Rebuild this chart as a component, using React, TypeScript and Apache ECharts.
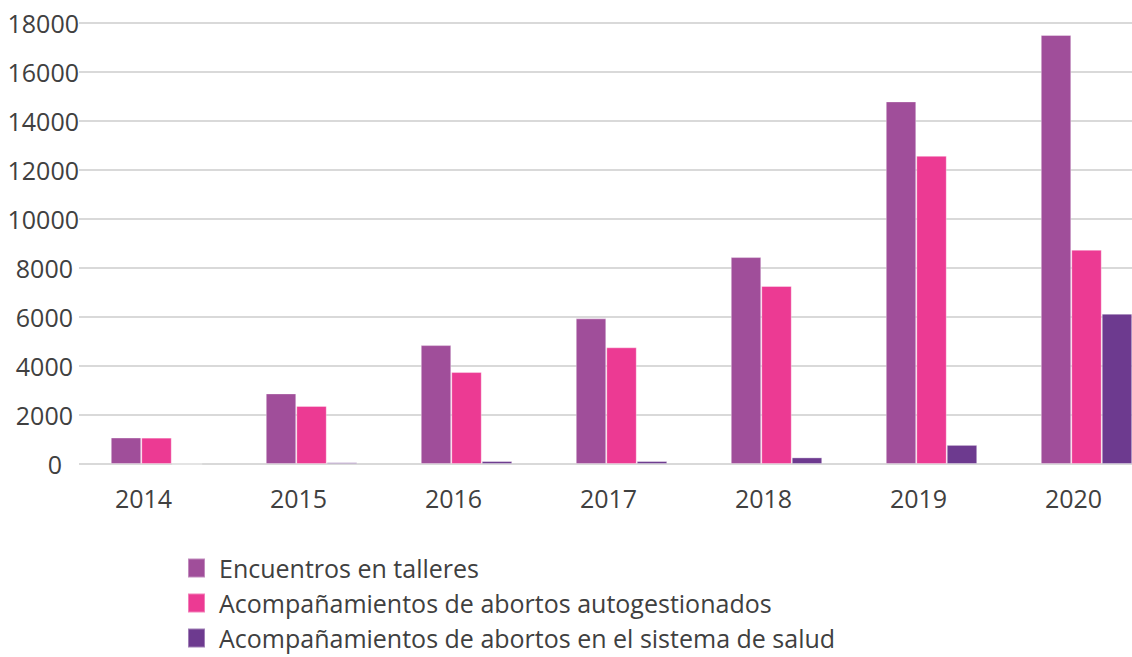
import React, { useEffect, useRef } from "react";
import * as echarts from "echarts";

const years = ["2014", "2015", "2016", "2017", "2018", "2019", "2020"];
const encuentros = [1080, 2880, 4850, 5940, 8440, 14790, 17500];
const autogestionados = [1075, 2370, 3750, 4760, 7260, 12570, 8740];
const sistemaSalud = [0, 70, 120, 120, 270, 780, 6130];
const seriesNames = [
  "Encuentros en talleres",
  "Acompañamientos de abortos autogestionados",
  "Acompañamientos de abortos en el sistema de salud",
];
const colors = ["#A04E9A", "#EC3A93", "#6D3A8F"];

const FONT = "'Open Sans', 'Noto Sans', sans-serif";
const TXT = "#404040";
const FS = 25;

export default function App() {
  const ref = useRef<HTMLDivElement>(null);
  useEffect(() => {
    document.body.style.margin = "0";
    document.body.style.overflow = "hidden";
    const chart = echarts.init(ref.current!, null, { renderer: "svg" });
    const data = [encuentros, autogestionados, sistemaSalud];
    const yRich = (pad: number) => ({
      fontFamily: FONT,
      fontSize: FS,
      color: TXT,
      padding: [0, pad, 0, 0],
    });
    const legendRowCenters = [568, 603, 638];
    chart.setOption({
      animation: false,
      grid: { left: 79, right: 0, top: 22.7, bottom: 193, containLabel: false },
      legend: seriesNames.map((name, i) => ({
        orient: "horizontal",
        left: 187,
        top: legendRowCenters[i] - 12.5,
        padding: 0,
        itemWidth: 17,
        itemHeight: 19,
        icon: "rect",
        textStyle: {
          fontFamily: FONT,
          fontSize: FS,
          lineHeight: 25,
          color: TXT,
          padding: [0, 0, 0, 9],
        },
        data: [name],
      })),
      xAxis: {
        type: "category",
        data: years,
        axisLine: { show: false },
        axisTick: { show: false },
        axisLabel: {
          fontFamily: FONT,
          fontSize: FS,
          color: TXT,
          margin: 21,
          padding: [0, 26, 0, 0],
        },
      },
      yAxis: {
        type: "value",
        min: 0,
        max: 18000,
        interval: 2000,
        axisLine: { show: false },
        axisTick: { show: false },
        splitLine: { lineStyle: { color: "#d9d9d9", width: 2 } },
        axisLabel: {
          fontFamily: FONT,
          fontSize: FS,
          color: TXT,
          margin: 0,
          formatter: (v: number) => {
            const s = String(v);
            const k = s.length >= 5 ? "five" : s.length === 1 ? "one" : "four";
            return `{${k}|${s}}`;
          },
          rich: { five: yRich(0), four: yRich(6), one: yRich(17) },
        },
      },
      series: seriesNames.map((name, i) => ({
        name,
        type: "bar",
        data: data[i],
        barGap: "0%",
        barCategoryGap: "41%",
        itemStyle: {
          color: colors[i],
          borderColor: "rgba(255,255,255,0.35)",
          borderWidth: 1,
        },
      })),
    });
    return () => chart.dispose();
  }, []);
  return <div ref={ref} style={{ width: 1164, height: 657 }} />;
}
